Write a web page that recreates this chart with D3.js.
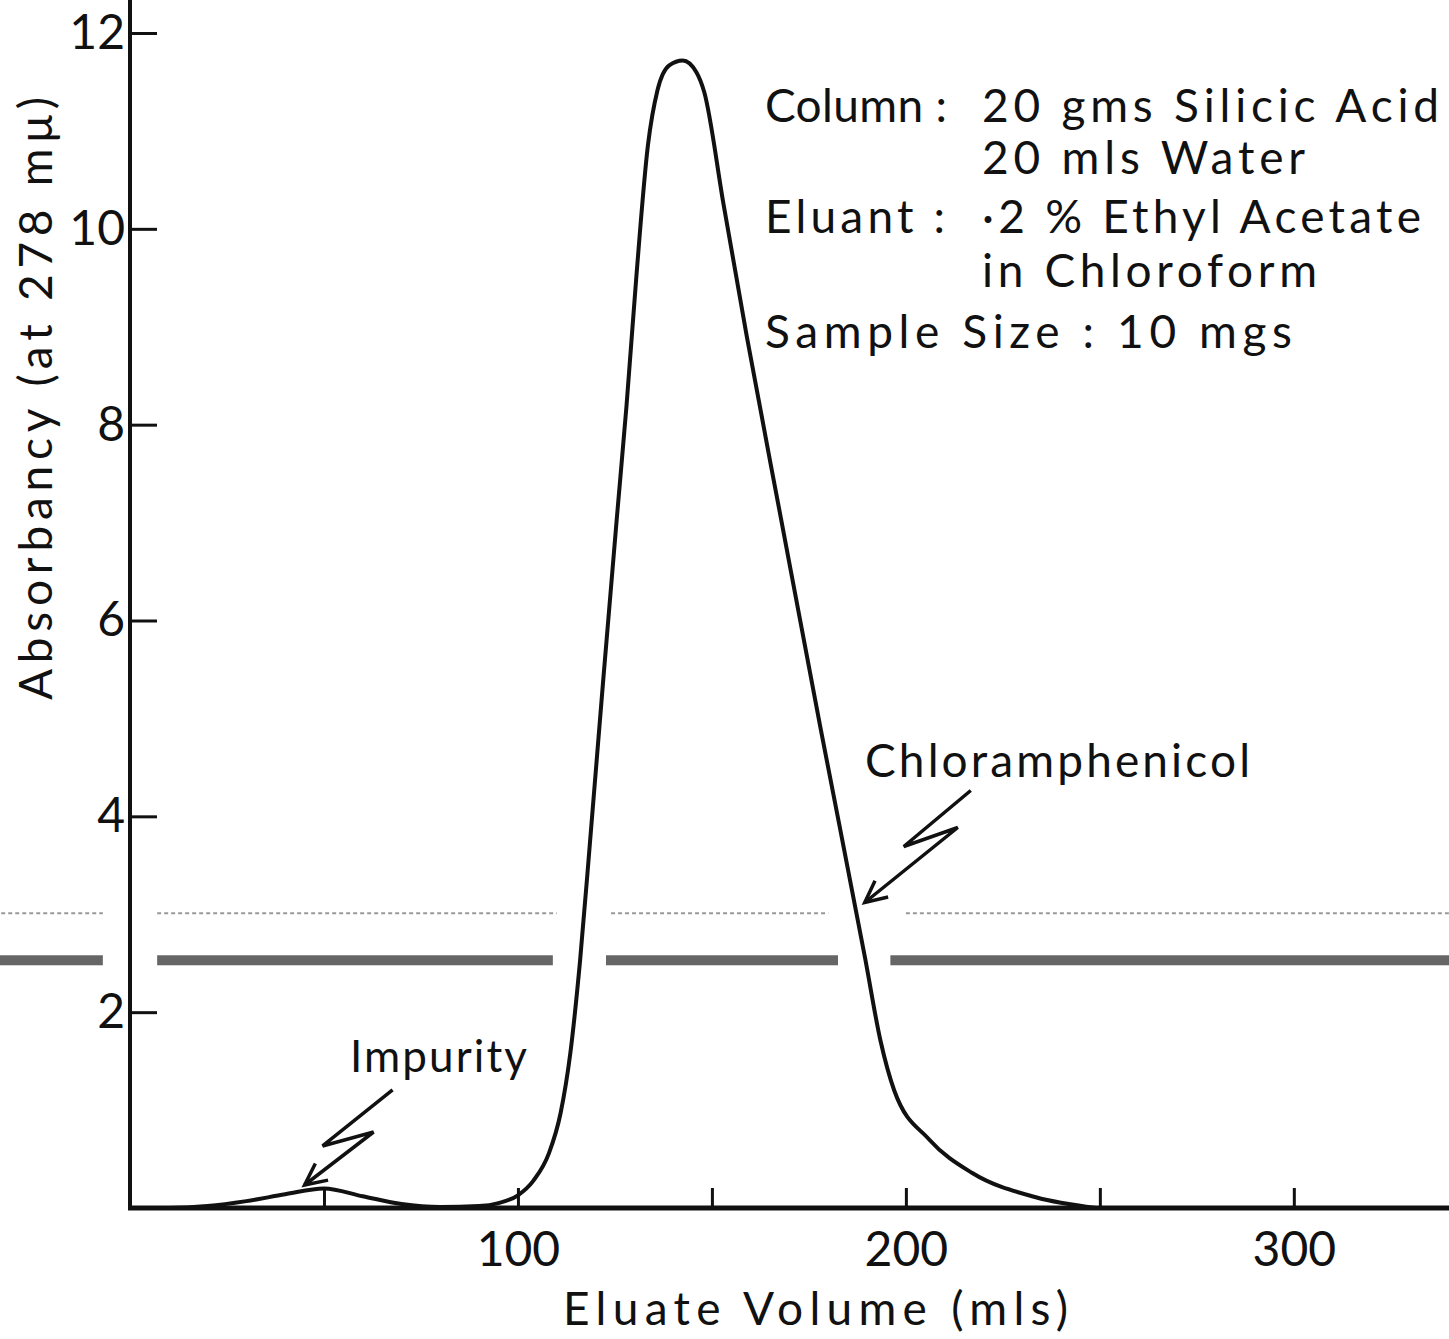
<!DOCTYPE html>
<html>
<head>
<meta charset="utf-8">
<script src="https://cdn.jsdelivr.net/npm/d3@7"></script>
<style>
  html, body { margin: 0; padding: 0; background: #fff; }
  svg { display: block; }
  text { font-family: Lato, "Open Sans", "DejaVu Sans", sans-serif; fill: #111; }
</style>
</head>
<body>
<div id="chart"></div>
<script>
// eluate volume (mls) and absorbancy
const volume = [0, 10, 20, 30, 40, 50, 60, 70, 80, 90, 95, 100, 104, 108, 111, 113.5, 116, 118.5,
  122, 125.5, 128, 130.5, 133.5, 136, 139, 142.5, 146, 148, 153, 159, 168, 178, 189.5, 193.5,
  197, 206, 217, 233.5, 249];
const absorbancy = [0, 0, 0.02, 0.07, 0.14, 0.2, 0.12, 0.04, 0.01, 0.02, 0.05, 0.13, 0.28, 0.56,
  0.97, 1.58, 2.52, 3.7, 5.4, 7.05, 8.2, 9.5, 10.85, 11.42, 11.67, 11.72, 11.6, 11.4, 10.25, 8.9,
  7.0, 4.9, 2.55, 1.7, 1.2, 0.7, 0.36, 0.11, 0];

const xTicks = [50, 100, 150, 200, 250, 300];
const xLabels = [100, 200, 300];
const yTicks = [2, 4, 6, 8, 10, 12];

const notes = [
  ["Column :", "20 gms  Silicic  Acid"],
  ["", "20 mls  Water"],
  ["Eluant :", "·2 % Ethyl  Acetate"],
  ["", "in  Chloroform"],
  ["Sample  Size :  10 mgs", ""]
];

// arrow tips, in chart units
const impurityTip = [45, 0.235];
const chlorTip = [189.4, 3.12];

var width = 1449, height = 1339;

var svg = d3.select('#chart').append('svg')
  .attr('width', width)
  .attr('height', height);

var x = d3.scaleLinear().domain([0, 340]).range([130, 1449]);
var y = d3.scaleLinear().domain([0, 12]).range([1208, 33]);

// scan streaks across the page
var band = [[-35, -7], [7, 109], [122.7, 182.5], [196, 340]];
svg.append('g').selectAll('rect')
  .data(band)
  .join('rect')
    .attr('x', d => x(d[0]))
    .attr('width', d => x(d[1]) - x(d[0]))
    .attr('y', y(2.53) - 5)
    .attr('height', 10)
    .attr('fill', '#333')
    .attr('opacity', 0.75);
var streak = [[-35, -7], [7, 110], [124, 180], [200, 340]];
svg.append('g').selectAll('line')
  .data(streak)
  .join('line')
    .attr('x1', d => x(d[0]))
    .attr('x2', d => x(d[1]))
    .attr('y1', y(3.01))
    .attr('y2', y(3.01))
    .attr('stroke', '#999')
    .attr('stroke-width', 2)
    .attr('stroke-dasharray', '4,3');

// axes
var yAxis = d3.axisLeft(y)
  .tickValues(yTicks)
  .tickSizeInner(-27)
  .tickSizeOuter(0)
  .tickPadding(5);

var gy = svg.append('g')
  .attr('transform', 'translate(' + x(0) + ',0)')
  .call(yAxis);
gy.select('.domain').remove();
gy.selectAll('line').attr('stroke', '#111').attr('stroke-width', 3);
gy.selectAll('text').style('font-size', '48px').attr('fill', '#111');

var xAxis = d3.axisBottom(x)
  .tickValues(xTicks)
  .tickSizeInner(-20)
  .tickSizeOuter(0)
  .tickPadding(24)
  .tickFormat(d => xLabels.indexOf(d) >= 0 ? d : '');

var gx = svg.append('g')
  .attr('transform', 'translate(0,' + y(0) + ')')
  .call(xAxis);
gx.select('.domain').remove();
gx.selectAll('line').attr('stroke', '#111').attr('stroke-width', 3);
gx.selectAll('text').style('font-size', '48px').attr('fill', '#111');

svg.append('line')
  .attr('x1', x(0)).attr('x2', x(0))
  .attr('y1', 0).attr('y2', y(0) + 2)
  .attr('stroke', '#111').attr('stroke-width', 4);
svg.append('line')
  .attr('x1', x(0) - 2).attr('x2', width)
  .attr('y1', y(0)).attr('y2', y(0))
  .attr('stroke', '#111').attr('stroke-width', 5);

// elution trace
var line = d3.line()
  .curve(d3.curveMonotoneX)
  .x((d, i) => x(volume[i]))
  .y(d => y(d));

svg.append('path')
  .datum(absorbancy)
  .attr('fill', 'none')
  .attr('stroke', '#111')
  .attr('stroke-width', 4)
  .attr('stroke-linejoin', 'round')
  .attr('d', line);

// axis titles
svg.append('text')
  .attr('x', 563).attr('y', 1325)
  .attr('textLength', 505)
  .attr('lengthAdjust', 'spacing')
  .style('font-size', '46px')
  .text('Eluate Volume  (mls)');

svg.append('text')
  .attr('transform', 'translate(52,700) rotate(-90)')
  .attr('textLength', 603)
  .attr('lengthAdjust', 'spacing')
  .style('font-size', '46px')
  .text('Absorbancy  (at 278 mμ)');

// conditions block
var rowY = [122, 174, 233, 287, 348];
var leftW = [182, 0, 180, 0, 527];
var rightW = [457, 323, 439, 335, 0];
notes.forEach(function(r, i) {
  if (r[0]) {
    svg.append('text')
      .attr('x', 765).attr('y', rowY[i])
      .attr('textLength', leftW[i])
      .attr('lengthAdjust', 'spacing')
      .style('font-size', '46px')
      .text(r[0]);
  }
  if (r[1]) {
    svg.append('text')
      .attr('x', 982).attr('y', rowY[i])
      .attr('textLength', rightW[i])
      .attr('lengthAdjust', 'spacing')
      .style('font-size', '46px')
      .text(r[1]);
  }
});

// peak labels with zig-zag arrows
svg.append('text')
  .attr('x', 865).attr('y', 777)
  .attr('textLength', 385)
  .attr('lengthAdjust', 'spacing')
  .style('font-size', '46px')
  .text('Chloramphenicol');

svg.append('text')
  .attr('x', 350).attr('y', 1072)
  .attr('textLength', 177)
  .attr('lengthAdjust', 'spacing')
  .style('font-size', '44px')
  .text('Impurity');

function zigArrow(tip, offs) {
  var tx = x(tip[0]), ty = y(tip[1]);
  var pts = offs.map(o => [tx + o[0], ty + o[1]]);
  pts.push([tx, ty]);
  svg.append('path')
    .attr('d', d3.line()(pts))
    .attr('fill', 'none')
    .attr('stroke', '#111')
    .attr('stroke-width', 3.5)
    .attr('stroke-linejoin', 'miter');
  var prev = pts[pts.length - 2];
  var ang = Math.atan2(prev[1] - ty, prev[0] - tx);
  var barbs = [ang - 0.45, ang + 0.45].map(a => [tx + 24 * Math.cos(a), ty + 24 * Math.sin(a)]);
  svg.append('path')
    .attr('d', d3.line()([barbs[0], [tx, ty], barbs[1]]))
    .attr('fill', 'none')
    .attr('stroke', '#111')
    .attr('stroke-width', 3.5);
}

zigArrow(impurityTip, [[88, -95], [18, -39], [69, -53]]);
zigArrow(chlorTip, [[106, -112], [39, -56], [93, -75]]);
</script>
</body>
</html>
